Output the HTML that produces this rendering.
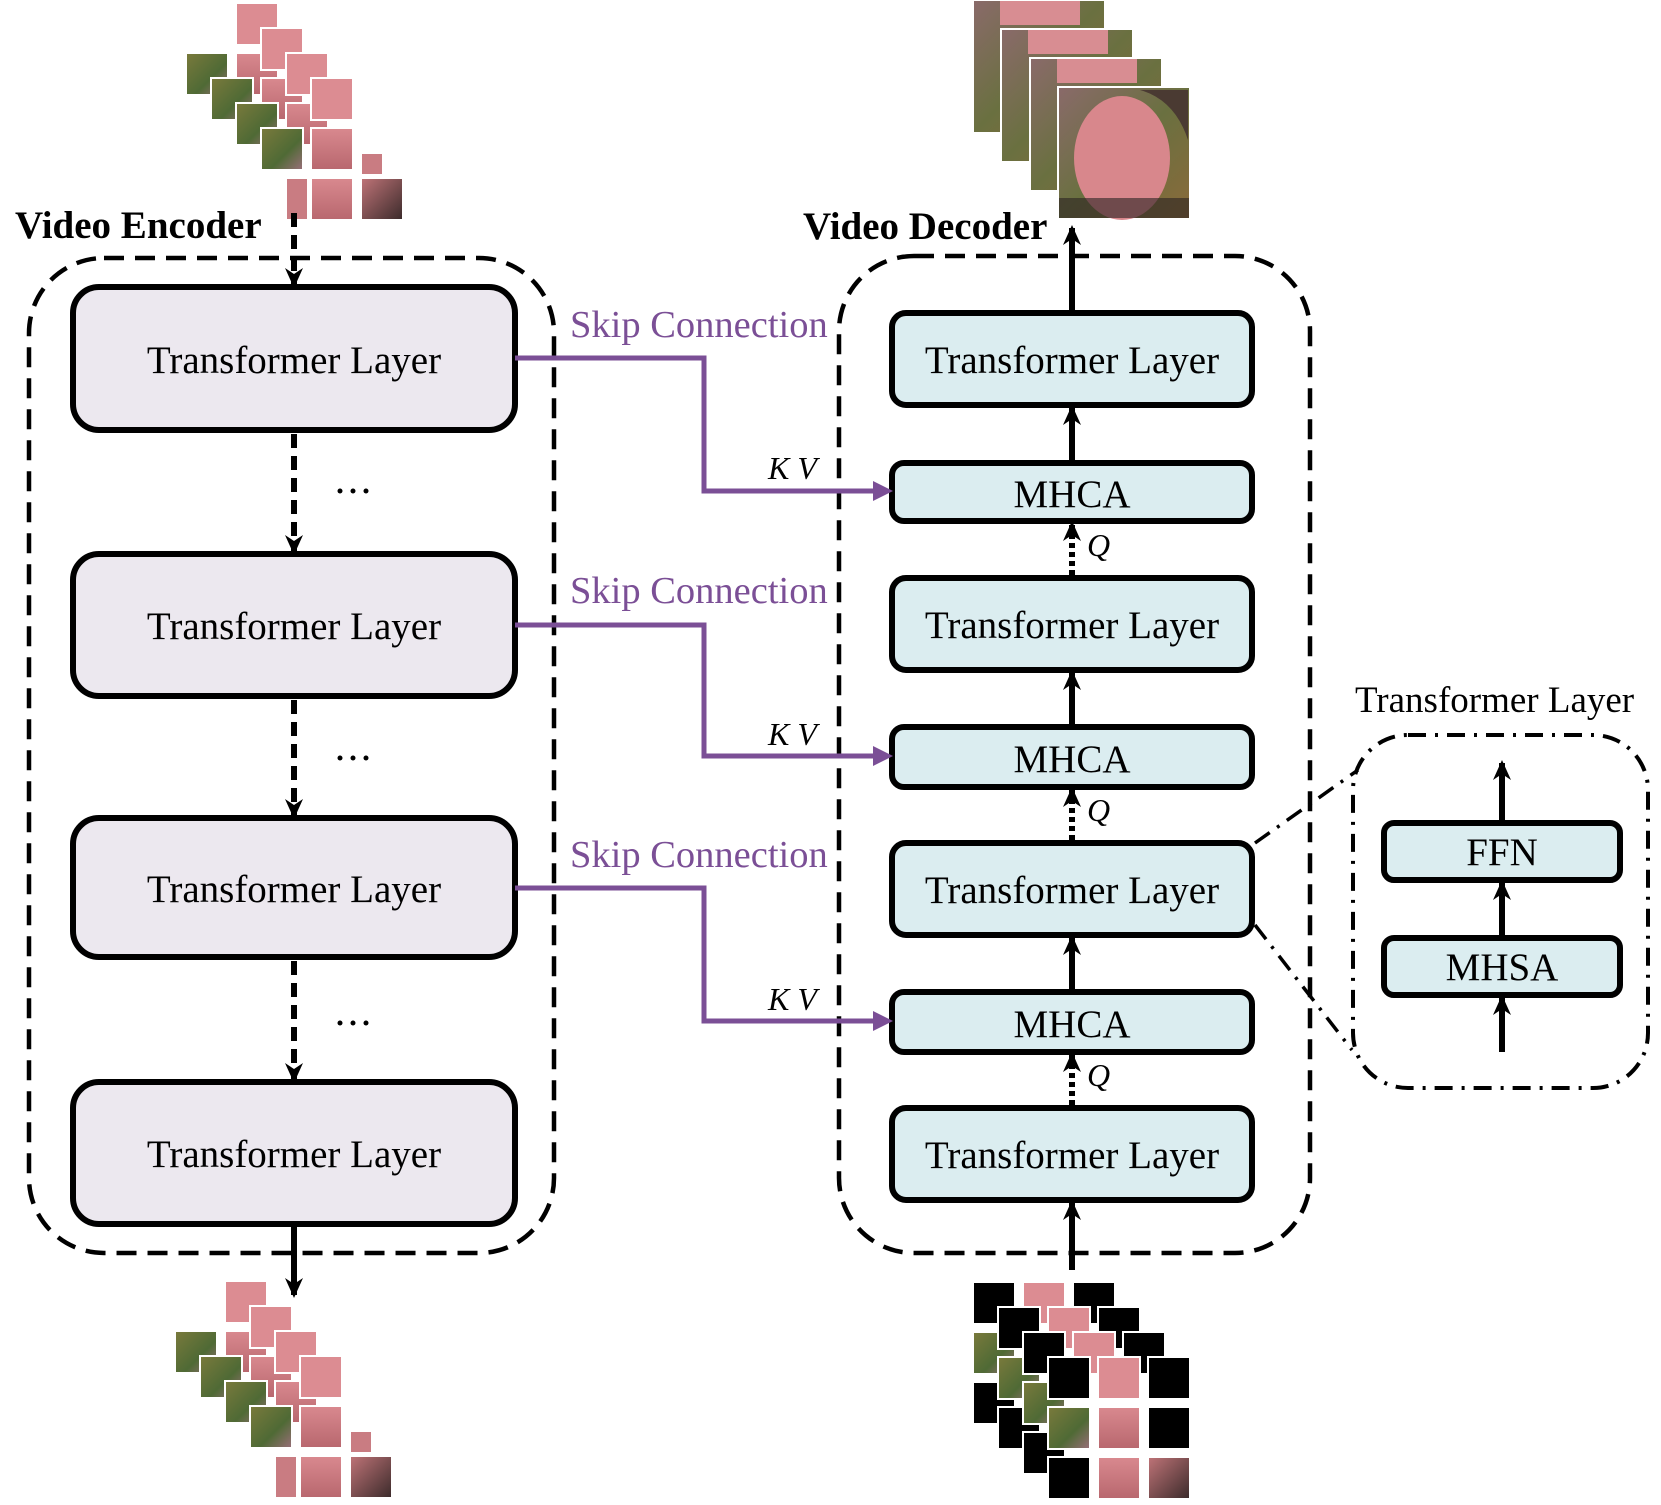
<!DOCTYPE html>
<html><head><meta charset="utf-8"><style>
html,body{margin:0;padding:0;background:#fff;}
svg{display:block;}
text{font-family:"Liberation Serif",serif;}
</style></head><body>
<svg width="1661" height="1505" viewBox="0 0 1661 1505" xmlns="http://www.w3.org/2000/svg">
<defs>
<marker id="ah" markerWidth="20" markerHeight="18" refX="17" refY="9" orient="auto" markerUnits="userSpaceOnUse" viewBox="0 0 20 18"><path d="M0,0 L20,9 L0,18 L6,9 Z" fill="#000"/></marker>
<linearGradient id="gr" x1="0" y1="0" x2="1" y2="1"><stop offset="0" stop-color="#7a7a3c"/><stop offset="0.6" stop-color="#4f6a35"/><stop offset="1" stop-color="#9a6f7a"/></linearGradient>
<linearGradient id="fc" x1="0" y1="0" x2="0" y2="1"><stop offset="0" stop-color="#d9898f"/><stop offset="1" stop-color="#b8676e"/></linearGradient>
<linearGradient id="dk" x1="0" y1="0" x2="1" y2="1"><stop offset="0" stop-color="#c07478"/><stop offset="1" stop-color="#3a2a2a"/></linearGradient>
<linearGradient id="bg" x1="0" y1="0" x2="1" y2="1"><stop offset="0" stop-color="#8a6a6a"/><stop offset="0.5" stop-color="#6a7040"/><stop offset="1" stop-color="#8a6a3a"/></linearGradient>
<g id="pf">
<rect x="50" y="0" width="42" height="42" fill="#dc8c92"/>
<rect x="0" y="50" width="42" height="42" fill="url(#gr)"/>
<rect x="50" y="50" width="42" height="42" fill="url(#fc)"/>
</g>
<g id="mf">
<rect x="0" y="0" width="42" height="42" fill="#000"/>
<rect x="50" y="0" width="42" height="42" fill="#dc8c92"/>
<rect x="100" y="0" width="42" height="42" fill="#000"/>
<rect x="0" y="50" width="42" height="42" fill="url(#gr)"/>
<rect x="0" y="100" width="42" height="42" fill="#000"/>
</g>
</defs>

<!-- top-left patches -->
<g stroke="#fff" stroke-width="2">
<use href="#pf" x="186" y="3"/>
<use href="#pf" x="211" y="28"/>
<use href="#pf" x="236" y="53"/>
<g transform="translate(261,78)">
<rect x="50" y="0" width="42" height="42" fill="#dc8c92"/>
<rect x="0" y="50" width="42" height="42" fill="url(#gr)"/>
<rect x="50" y="50" width="42" height="42" fill="url(#fc)"/>
<rect x="100" y="75" width="22" height="22" fill="#c97c82"/>
<rect x="25" y="100" width="22" height="42" fill="#c97c82"/>
<rect x="50" y="100" width="42" height="42" fill="url(#fc)"/>
<rect x="100" y="100" width="42" height="42" fill="url(#dk)"/>
</g>
</g>

<!-- bottom-left patches -->
<g stroke="#fff" stroke-width="2">
<use href="#pf" x="175" y="1281"/>
<use href="#pf" x="200" y="1306"/>
<use href="#pf" x="225" y="1331"/>
<g transform="translate(250,1356)">
<rect x="50" y="0" width="42" height="42" fill="#dc8c92"/>
<rect x="0" y="50" width="42" height="42" fill="url(#gr)"/>
<rect x="50" y="50" width="42" height="42" fill="url(#fc)"/>
<rect x="100" y="75" width="22" height="22" fill="#c97c82"/>
<rect x="25" y="100" width="22" height="42" fill="#c97c82"/>
<rect x="50" y="100" width="42" height="42" fill="url(#fc)"/>
<rect x="100" y="100" width="42" height="42" fill="url(#dk)"/>
</g>
</g>

<!-- bottom-right masked patches -->
<g stroke="#fff" stroke-width="2">
<use href="#mf" x="973" y="1282"/>
<use href="#mf" x="998" y="1307"/>
<use href="#mf" x="1023" y="1332"/>
<g transform="translate(1048,1357)">
<rect x="0" y="0" width="42" height="42" fill="#000"/>
<rect x="50" y="0" width="42" height="42" fill="#dc8c92"/>
<rect x="100" y="0" width="42" height="42" fill="#000"/>
<rect x="0" y="50" width="42" height="42" fill="url(#gr)"/>
<rect x="50" y="50" width="42" height="42" fill="url(#fc)"/>
<rect x="100" y="50" width="42" height="42" fill="#000"/>
<rect x="0" y="100" width="42" height="42" fill="#000"/>
<rect x="50" y="100" width="42" height="42" fill="url(#fc)"/>
<rect x="100" y="100" width="42" height="42" fill="url(#dk)"/>
</g>
</g>

<!-- top-right faces -->
<g stroke="#fff" stroke-width="2">
<rect x="973" y="0" width="132" height="133" fill="url(#bg)"/>
<rect x="1001" y="29" width="132" height="133" fill="url(#bg)"/>
<rect x="1030" y="58" width="132" height="133" fill="url(#bg)"/>
<rect x="1058" y="87" width="132" height="132" fill="url(#bg)"/>
</g>
<rect x="1000" y="1" width="80" height="24" fill="#d88d92"/>
<rect x="1028" y="30" width="80" height="24" fill="#d88d92"/>
<rect x="1057" y="59" width="80" height="24" fill="#d88d92"/>
<ellipse cx="1122" cy="158" rx="48" ry="62" fill="#d8878c"/>
<path d="M1140,90 Q1175,100 1188,140 L1188,90 Z" fill="#4a3a32"/>
<rect x="1059" y="198" width="130" height="20" fill="#2a2222" opacity="0.6"/>

<!-- Encoder -->
<text x="15" y="238" font-size="39" font-weight="bold">Video Encoder</text>
<rect x="29" y="258" width="525" height="995" rx="75" fill="none" stroke="#000" stroke-width="4.5" stroke-dasharray="20 11"/>
<g fill="#ece8ef" stroke="#000" stroke-width="6">
<rect x="73" y="287" width="442" height="143" rx="26"/>
<rect x="73" y="554" width="442" height="142" rx="26"/>
<rect x="73" y="818" width="442" height="139" rx="26"/>
<rect x="73" y="1082" width="442" height="142" rx="26"/>
</g>
<g font-size="39" text-anchor="middle">
<text x="294" y="373">Transformer Layer</text>
<text x="294" y="639">Transformer Layer</text>
<text x="294" y="902">Transformer Layer</text>
<text x="294" y="1167">Transformer Layer</text>
</g>
<g stroke="#000" stroke-width="6" stroke-dasharray="14 8" fill="none" marker-end="url(#ah)">
<line x1="294" y1="213" x2="294" y2="285"/>
<line x1="294" y1="434" x2="294" y2="552"/>
<line x1="294" y1="700" x2="294" y2="816"/>
<line x1="294" y1="961" x2="294" y2="1080"/>
</g>
<line x1="294" y1="1227" x2="294" y2="1295" stroke="#000" stroke-width="6" marker-end="url(#ah)"/>
<g fill="#000">
<circle cx="340" cy="491" r="2.5"/><circle cx="353" cy="491" r="2.5"/><circle cx="366" cy="491" r="2.5"/>
<circle cx="340" cy="758" r="2.5"/><circle cx="353" cy="758" r="2.5"/><circle cx="366" cy="758" r="2.5"/>
<circle cx="340" cy="1023" r="2.5"/><circle cx="353" cy="1023" r="2.5"/><circle cx="366" cy="1023" r="2.5"/>
</g>

<!-- Decoder -->
<text x="803" y="239" font-size="39" font-weight="bold">Video Decoder</text>
<rect x="839" y="256" width="471" height="997" rx="75" fill="none" stroke="#000" stroke-width="4.5" stroke-dasharray="20 11"/>
<g fill="#dbedf0" stroke="#000" stroke-width="6">
<rect x="892" y="313" width="360" height="92" rx="14"/>
<rect x="892" y="463" width="360" height="58" rx="12"/>
<rect x="892" y="578" width="360" height="92" rx="14"/>
<rect x="892" y="727" width="360" height="60" rx="12"/>
<rect x="892" y="843" width="360" height="92" rx="14"/>
<rect x="892" y="992" width="360" height="60" rx="12"/>
<rect x="892" y="1108" width="360" height="92" rx="14"/>
</g>
<g font-size="39" text-anchor="middle">
<text x="1072" y="373">Transformer Layer</text>
<text x="1072" y="507">MHCA</text>
<text x="1072" y="638">Transformer Layer</text>
<text x="1072" y="772">MHCA</text>
<text x="1072" y="903">Transformer Layer</text>
<text x="1072" y="1037">MHCA</text>
<text x="1072" y="1168">Transformer Layer</text>
</g>
<g stroke="#000" stroke-width="6" fill="none" marker-end="url(#ah)">
<line x1="1072" y1="310" x2="1072" y2="228"/>
<line x1="1072" y1="460" x2="1072" y2="408"/>
<line x1="1072" y1="724" x2="1072" y2="673"/>
<line x1="1072" y1="989" x2="1072" y2="938"/>
<line x1="1072" y1="1270" x2="1072" y2="1203"/>
</g>
<g stroke="#000" stroke-width="6" stroke-dasharray="5 4" fill="none" marker-end="url(#ah)">
<line x1="1072" y1="575" x2="1072" y2="524"/>
<line x1="1072" y1="840" x2="1072" y2="790"/>
<line x1="1072" y1="1105" x2="1072" y2="1055"/>
</g>
<g font-size="32" font-style="italic">
<text x="1087" y="556">Q</text>
<text x="1087" y="821">Q</text>
<text x="1087" y="1086">Q</text>
<text x="768" y="479">K V</text>
<text x="768" y="745">K V</text>
<text x="768" y="1010">K V</text>
</g>

<!-- Skip connections -->
<g stroke="#7b4f96" stroke-width="5" fill="none">
<polyline points="515,358 704,358 704,491 878,491"/>
<polyline points="515,625 704,625 704,756 878,756"/>
<polyline points="515,888 704,888 704,1021 878,1021"/>
</g>
<g fill="#7b4f96">
<path d="M893,491 L873,481 L873,501 Z"/>
<path d="M893,756 L873,746 L873,766 Z"/>
<path d="M893,1021 L873,1011 L873,1031 Z"/>
</g>
<g font-size="38.5" fill="#7b4f96">
<text x="570" y="337">Skip Connection</text>
<text x="570" y="603">Skip Connection</text>
<text x="570" y="867">Skip Connection</text>
</g>

<!-- Side panel -->
<text x="1355" y="712" font-size="37">Transformer Layer</text>
<rect x="1353" y="735" width="295" height="353" rx="55" fill="none" stroke="#000" stroke-width="4" stroke-dasharray="18 9 3 9"/>
<line x1="1255" y1="843" x2="1358" y2="770" stroke="#000" stroke-width="3.5" stroke-dasharray="18 9 3 9"/>
<line x1="1255" y1="925" x2="1352" y2="1050" stroke="#000" stroke-width="3.5" stroke-dasharray="18 9 3 9"/>
<g fill="#dbedf0" stroke="#000" stroke-width="6">
<rect x="1384" y="823" width="236" height="57" rx="10"/>
<rect x="1384" y="938" width="236" height="57" rx="10"/>
</g>
<g font-size="39" text-anchor="middle">
<text x="1502" y="865">FFN</text>
<text x="1502" y="980">MHSA</text>
</g>
<g stroke="#000" stroke-width="6" fill="none" marker-end="url(#ah)">
<line x1="1502" y1="820" x2="1502" y2="763"/>
<line x1="1502" y1="935" x2="1502" y2="883"/>
<line x1="1502" y1="1052" x2="1502" y2="998"/>
</g>
</svg>
</body></html>
